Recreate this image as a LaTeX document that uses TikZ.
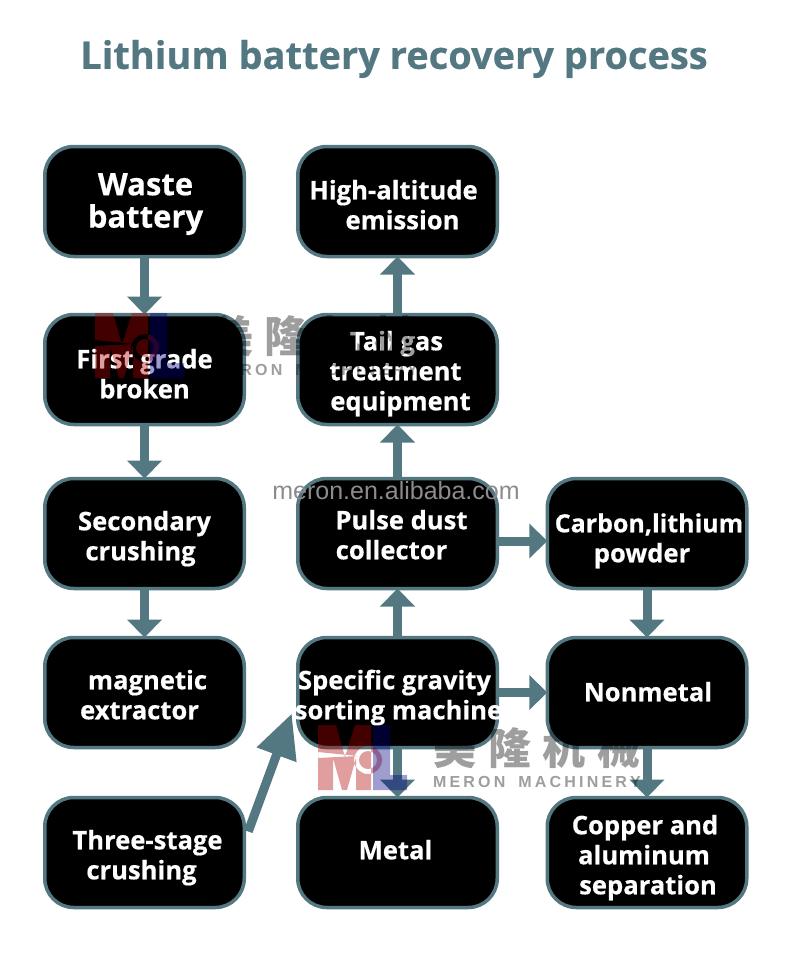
\documentclass[tikz,border=0pt]{standalone}
\usepackage{fontspec}
\setmainfont{Open Sans}[BoldFeatures={FakeBold=0.5}]
\newfontfamily\cjkwm{Noto Sans CJK SC}[Scale=1]
\newfontfamily\wmsans{Liberation Sans}
\usetikzlibrary{arrows.meta,calc,positioning}
\definecolor{teal}{HTML}{537882}
\newcommand\rowl[2]{\makebox[0pt]{\hspace*{#1pt}\hspace*{#1pt}#2}\\}
\newcommand\lns[2]{\smash{\raisebox{#1pt}{\makebox[0pt]{\begin{tabular}{@{}c@{}}#2\end{tabular}}}}}
\newcommand\meronlogo{%
  \fill[red!70!black,opacity=.38,even odd rule]
    (318,725)--(336,725)--(345,757)--(355,725)--(371,725)--(371,790)--(356,790)--(356,758)--(347,790)--(342,790)--(333,758)--(333,790)--(318,790)--cycle
    (318,752)--(358,756)--(318,758)--cycle
    (368,760) circle[radius=14] (368,760) circle[radius=9];
  \fill[blue!50!black,opacity=.38] (373,725)--(390,725)--(390,775)--(407,775)--(407,790)--(373,790)--cycle;
}
\tikzset{
  box/.style={draw=teal,fill=black,line width=3.5pt,rounded corners=29pt,minimum width=199.5pt,minimum height=110pt,inner sep=0pt,outer sep=0pt,text=white,font=\fontsize{25.6}{30}\selectfont\bfseries},
  bigtext/.style={font=\fontsize{31}{29.5}\selectfont\bfseries},
  conn/.style={draw=teal,line width=9pt,-{Triangle[width=34pt,length=18pt,fill=teal]}},
  bigconn/.style={draw=teal,line width=9pt,-{Triangle[width=40pt,length=44pt,fill=teal]}},
  wmgray/.style={text=black!38,inner sep=0pt},
}
\begin{document}
\begin{tikzpicture}[x=1pt,y=-1pt]
\useasboundingbox (0,0) rectangle (790,980);
\fill[white] (0,0) rectangle (790,980);
\node[text=teal,font=\fontsize{38}{40}\selectfont\bfseries] (title) at (394,59) {Lithium battery recovery process};

\node[box,bigtext] (waste) at (144.5,201.5) {\lns{-9.5}{\rowl{1}{Waste}\rowl{1}{battery}}};
\node[box] (first) at (144.5,369.5) {\lns{-14}{\rowl{0}{First grade}\rowl{0}{broken}}};
\node[box] (second) at (144.5,533.5) {\lns{-12}{\rowl{0}{Secondary}\rowl{-4}{crushing}}};
\node[box] (magnet) at (144.5,692.5) {\lns{-12}{\rowl{3}{magnetic}\rowl{-5}{extractor}}};
\node[box] (three) at (144.5,852.5) {\lns{-12}{\rowl{3}{Three-stage}\rowl{-3}{crushing}}};

\node[box] (high) at (397.5,201.5) {\lns{-13}{\rowl{-4}{High-altitude}\rowl{5}{emission}}};
\node[box] (tail) at (397.5,369.5) {\lns{-11}{\rowl{-1}{Tail gas}\rowl{-2}{treatment}\rowl{3}{equipment}}};
\node[box] (pulse) at (397.5,533.5) {\lns{-11}{\rowl{4}{Pulse dust}\rowl{-6}{collector}}};
\node[box] (sgs) at (397.5,692.5) {\lns{-12}{\rowl{-3}{Specific gravity}\rowl{1}{sorting machine}}};
\node[box] (metal) at (397.5,852.5) {\lns{-7}{\rowl{-2}{Metal}}};

\node[box] (carbon) at (647,533.5) {\lns{-14}{\rowl{2}{\fontsize{25}{30}\selectfont Carbon,lithium}\rowl{-5}{powder}}};
\node[box] (nonmetal) at (647,692.5) {\lns{-9}{\rowl{1}{Nonmetal}}};
\node[box] (copper) at (647,852.5) {\lns{-12}{\rowl{-2}{Copper and}\rowl{-3}{aluminum}\rowl{1}{separation}}};

\draw[conn] (waste.south) -- (first.north);
\draw[conn] (first.south) -- (second.north);
\draw[conn] (second.south) -- (magnet.north);
\draw[conn] (tail.north) -- (high.south);
\draw[conn] (pulse.north) -- (tail.south);
\draw[conn] (sgs.north) -- (pulse.south);
\draw[conn] (sgs.south) -- (metal.north);
\draw[conn] (carbon.south) -- (nonmetal.north);
\draw[conn] (nonmetal.south) -- (copper.north);
\draw[conn] (sgs.east) -- (nonmetal.west);
\draw[conn] ($(pulse.east)+(0,7.5)$) -- ($(carbon.west)+(0,7.5)$);
\draw[bigconn] ($(three.east)+(4,-21)$) -- ($(sgs.west)+(-6,21)$);

\begin{scope}[blend mode=multiply]
\node[wmgray,font=\cjkwm\bfseries\fontsize{43}{43}\selectfont] (wmcn) at (537,748) {美\hspace{12pt}隆\hspace{12pt}机\hspace{12pt}械};
\node[wmgray,font=\wmsans\bfseries\fontsize{16}{16}\selectfont] (wmen) at (537,782) {M\hspace{3.2pt}E\hspace{3.2pt}R\hspace{3.2pt}O\hspace{3.2pt}N\hspace{13pt}M\hspace{3.2pt}A\hspace{3.2pt}C\hspace{3.2pt}H\hspace{3.2pt}I\hspace{3.2pt}N\hspace{3.2pt}E\hspace{3.2pt}R\hspace{3.2pt}Y};
\node[wmgray,font=\cjkwm\bfseries\fontsize{43}{43}\selectfont] (wmcnb) at (314,336) {美\hspace{12pt}隆\hspace{12pt}机\hspace{12pt}械};
\node[wmgray,font=\wmsans\bfseries\fontsize{16}{16}\selectfont] (wmenb) at (314,370) {M\hspace{3.2pt}E\hspace{3.2pt}R\hspace{3.2pt}O\hspace{3.2pt}N\hspace{13pt}M\hspace{3.2pt}A\hspace{3.2pt}C\hspace{3.2pt}H\hspace{3.2pt}I\hspace{3.2pt}N\hspace{3.2pt}E\hspace{3.2pt}R\hspace{3.2pt}Y};
\end{scope}
\meronlogo
\begin{scope}[shift={(-223,-412)}]\meronlogo\end{scope}
\node[text=black!45,inner sep=0pt,font=\wmsans\fontsize{25}{25}\selectfont] (alibaba) at (396,491) {meron.en.alibaba.com};
\end{tikzpicture}
\end{document}
